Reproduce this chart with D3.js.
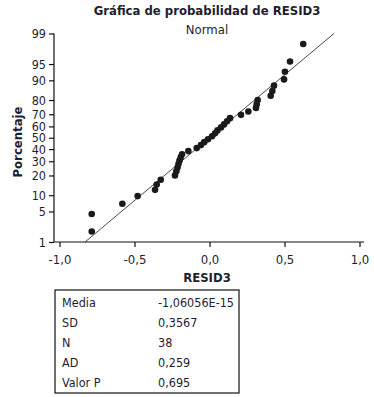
<!DOCTYPE html>
<html>
<head>
<meta charset="utf-8">
<script src="https://cdn.jsdelivr.net/npm/d3@7"></script>
<style>
  body { margin: 0; background: white; }
  text { font-family: "Liberation Sans Narrow", "DejaVu Sans Condensed", sans-serif; fill: #1e1e30; }
</style>
</head>
<body>
<div id="chart"></div>
<script>
// sorted residuals
var resid = [-0.785, -0.785, -0.581, -0.479, -0.363, -0.352, -0.325,
             -0.230, -0.221, -0.213, -0.207, -0.200, -0.192, -0.183,
             -0.141, -0.085, -0.057, -0.035, -0.010,
              0.017, 0.037, 0.053, 0.077, 0.097, 0.117, 0.137,
              0.210, 0.259, 0.310, 0.315, 0.321,
              0.408, 0.419, 0.430, 0.497, 0.503, 0.537, 0.625];

var pctTicks = [1, 5, 10, 20, 30, 40, 50, 60, 70, 80, 90, 95, 99];
var xTicks   = [-1, -0.5, 0, 0.5, 1];

var statLabels = ["Media", "SD", "N", "AD", "Valor P"];
var statValues = ["-1,06056E-15", "0,3567", "38", "0,259", "0,695"];
var mean = -1.06056e-15, sd = 0.3567;

var width = 374, height = 397;

// inverse normal cdf (Acklam)
function probit(p) {
  var a = [-39.69683028665376, 220.9460984245205, -275.9285104469687, 138.3577518672690, -30.66479806614716, 2.506628277459239];
  var b = [-54.47609879822406, 161.5858368580409, -155.6989798598866, 66.80131188771972, -13.28068155288572];
  var c = [-0.007784894002430293, -0.3223964580411365, -2.400758277161838, -2.549732539343734, 4.374664141464968, 2.938163982698783];
  var d = [0.007784695709041462, 0.3224671290700398, 2.445134137142996, 3.754408661907416];
  var q, r;
  if (p < 0.02425) {
    q = Math.sqrt(-2 * Math.log(p));
    return (((((c[0]*q+c[1])*q+c[2])*q+c[3])*q+c[4])*q+c[5]) / ((((d[0]*q+d[1])*q+d[2])*q+d[3])*q+1);
  } else if (p > 1 - 0.02425) {
    q = Math.sqrt(-2 * Math.log(1 - p));
    return -(((((c[0]*q+c[1])*q+c[2])*q+c[3])*q+c[4])*q+c[5]) / ((((d[0]*q+d[1])*q+d[2])*q+d[3])*q+1);
  }
  q = p - 0.5; r = q * q;
  return (((((a[0]*r+a[1])*r+a[2])*r+a[3])*r+a[4])*r+a[5])*q / (((((b[0]*r+b[1])*r+b[2])*r+b[3])*r+b[4])*r+1);
}

var n = resid.length;
// median rank plotting positions
var zs = resid.map(function(d, i) { return probit((i + 1 - 0.3) / (n + 0.4)); });

var svg = d3.select("#chart").append("svg")
    .attr("width", width)
    .attr("height", height);

var x = d3.scaleLinear().domain([-1, 1]).range([59.5, 359.5]);
var y = d3.scaleLinear().domain([probit(0.01), probit(0.99)]).range([242, 33.5]);

// axes
var yAxis = d3.axisLeft(y)
    .tickValues(pctTicks.map(function(p) { return probit(p / 100); }))
    .tickFormat(function(d, i) { return pctTicks[i]; })
    .tickSize(5).tickSizeOuter(0);
var gy = svg.append("g").attr("transform", "translate(54,0)").call(yAxis);
gy.select(".domain").attr("d", "M0," + y.range()[1] + "V" + y.range()[0]);

var xAxis = d3.axisBottom(x)
    .tickValues(xTicks)
    .tickFormat(function(d) { return d3.format(".1f")(d).replace(".", ",").replace("\u2212", "-"); })
    .tickSize(5).tickSizeOuter(0);
var gx = svg.append("g").attr("transform", "translate(0,242)").call(xAxis);
gx.select(".domain").attr("d", "M54,0H364");

[gx, gy].forEach(function(g) {
  g.selectAll("path, line").attr("stroke", "#111").attr("stroke-width", 1.2);
  g.selectAll("text").attr("font-size", 13).style("font-family", null);
});
gx.selectAll("text").attr("dy", "1.1em");
gy.selectAll("text").attr("font-size", 12.5);

// fitted line
svg.append("line")
    .attr("x1", x(mean + sd * probit(0.01))).attr("y1", y(probit(0.01)))
    .attr("x2", x(mean + sd * probit(0.99))).attr("y2", y(probit(0.99)))
    .attr("stroke", "#333").attr("stroke-width", 0.9);

// points
svg.append("g").selectAll("circle")
    .data(resid)
    .enter().append("circle")
    .attr("cx", function(d) { return x(d); })
    .attr("cy", function(d, i) { return y(zs[i]); })
    .attr("r", 3.3)
    .attr("fill", "#1a1a1a");

// titles
svg.append("text").attr("x", 207).attr("y", 15).attr("text-anchor", "middle")
    .attr("font-size", 13).attr("font-weight", "bold").text("Gráfica de probabilidad de RESID3");
svg.append("text").attr("x", 207).attr("y", 34).attr("text-anchor", "middle")
    .attr("font-size", 13).text("Normal");
svg.append("text").attr("x", 207).attr("y", 282).attr("text-anchor", "middle")
    .attr("font-size", 13).attr("font-weight", "bold").text("RESID3");
svg.append("text").attr("transform", "translate(22,142) rotate(-90)").attr("text-anchor", "middle")
    .attr("font-size", 13).attr("font-weight", "bold").text("Porcentaje");

// stats box
var box = svg.append("g").attr("transform", "translate(55,290)");
box.append("rect").attr("width", 184).attr("height", 103)
    .attr("fill", "white").attr("stroke", "#111").attr("stroke-width", 1.2);
var rows = d3.scaleBand().domain(statLabels).range([2, 102]);
box.selectAll("text.lab").data(statLabels).enter().append("text")
    .attr("class", "lab").attr("x", 7).attr("y", function(d) { return rows(d) + rows.bandwidth() / 2 + 5; })
    .attr("font-size", 12.5).text(function(d) { return d; });
box.selectAll("text.val").data(statValues).enter().append("text")
    .attr("class", "val").attr("x", 103).attr("y", function(d, i) { return rows(statLabels[i]) + rows.bandwidth() / 2 + 5; })
    .attr("font-size", 12.5).text(function(d) { return d; });
</script>
</body>
</html>
